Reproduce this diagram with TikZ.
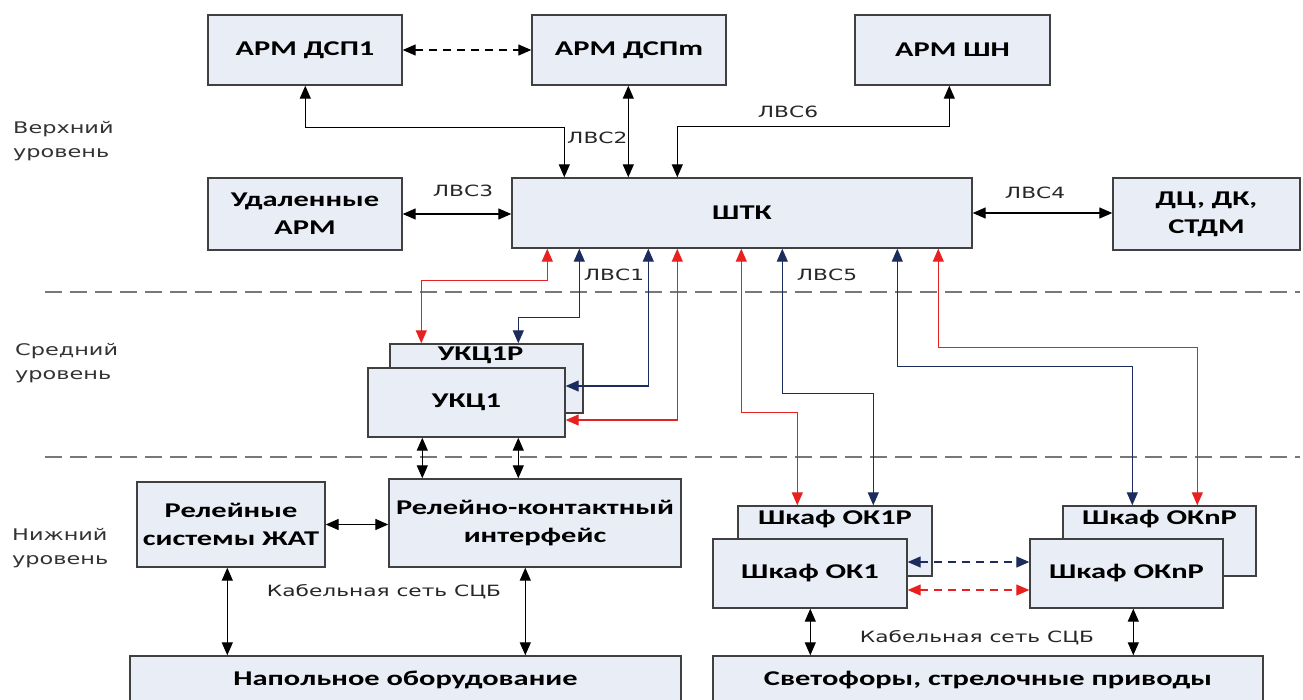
\documentclass[tikz,border=0pt]{standalone}
\usepackage{fontspec}
\newfontfamily\boxfont{Carlito}[FakeStretch=1.45]
\newfontfamily\lblfont{DejaVu Sans}[FakeStretch=1.4]
\usetikzlibrary{arrows.meta,calc}
\definecolor{boxfill}{RGB}{233,237,245}
\definecolor{boxdraw}{RGB}{64,64,64}
\definecolor{sepgray}{RGB}{120,120,120}
\definecolor{lred}{RGB}{232,32,32}
\definecolor{lblue}{RGB}{28,44,92}
\tikzset{
  >={Triangle[length=13pt,width=11pt]},
  box/.style={draw=boxdraw, fill=boxfill, line width=1.4pt, inner sep=0pt,
    align=center, font=\boxfont\bfseries\fontsize{21}{28}\selectfont},
  boxtxt/.style={inner sep=0pt, font=\boxfont\bfseries\fontsize{21}{28}\selectfont},
  lbl/.style={inner sep=0pt, font=\lblfont\fontsize{15.5}{18}\selectfont, text=black!85},
  lvl/.style={inner sep=0pt, align=left, anchor=west, font=\lblfont\fontsize{16}{24}\selectfont, text=black!80},
  sep/.style={draw=sepgray, line width=2.2pt, dash pattern=on 17pt off 8pt},
  blk/.style={<->, draw=black, line width=1.3pt},
  red/.style={<->, draw=lred, line width=1.2pt},
  blu/.style={<->, draw=lblue, line width=1.3pt},
  dashlink/.style={dash pattern=on 8pt off 6pt}
}
\begin{document}
\begin{tikzpicture}[x=1pt,y=-1pt]
\useasboundingbox (0,0) rectangle (1303,699);

% level separators
\draw[sep] (45,292) -- (1300,292);
\draw[sep] (45,457) -- (1300,457);

% level labels
\node[lvl] (lv1) at (13,141) {Верхний\\уровень};
\node[lvl] (lv2) at (15,363) {Средний\\уровень};
\node[lvl] (lv3) at (12,548) {Нижний\\уровень};

% upper level
\node[box, minimum width=194pt, minimum height=70pt] (dsp1) at (305,50) {АРМ ДСП1};
\node[box, minimum width=194pt, minimum height=70pt] (dspm) at (629,50) {АРМ ДСПm};
\node[box, minimum width=195pt, minimum height=70pt] (shn) at (952.5,50) {АРМ ШН};
\node[box, minimum width=194pt, minimum height=72pt] (rem) at (305,214) {Удаленные\\АРМ};
\node[box, minimum width=460pt, minimum height=70pt] (shtk) at (742,213) {ШТК};
\node[box, minimum width=187pt, minimum height=72pt] (dc) at (1206.5,214) {ДЦ, ДК,\\СТДМ};

% middle level
\node[box, minimum width=193pt, minimum height=69pt] (ukc1r) at (486.5,378.5) {};
\node[boxtxt] (ukc1rt) at ($(ukc1r.north)+(-6,12)$) {УКЦ1Р};
\node[box, minimum width=197pt, minimum height=69pt] (ukc1) at (466.5,402.5) {УКЦ1};

% lower level
\node[box, minimum width=188pt, minimum height=85pt] (rel) at (231,524.5) {Релейные\\системы ЖАТ};
\node[box, minimum width=292pt, minimum height=88pt] (rki) at (535,523) {Релейно-контактный\\интерфейс};
\node[box, minimum width=551pt, minimum height=48pt] (nap) at (405.5,680) {Напольное оборудование};
\node[box, minimum width=194pt, minimum height=70pt] (ok1r) at (835,541) {};
\node[boxtxt] (ok1rt) at ($(ok1r.north)+(0,14)$) {Шкаф ОК1Р};
\node[box, minimum width=194pt, minimum height=69pt] (ok1) at (810,573.5) {Шкаф ОК1};
\node[box, minimum width=193pt, minimum height=70pt] (oknr) at (1159.5,541) {};
\node[boxtxt] (oknrt) at ($(oknr.north)+(0,14)$) {Шкаф ОКnР};
\node[box, minimum width=193pt, minimum height=69pt] (okn) at (1126.5,573.5) {Шкаф ОКnР};
\node[box, minimum width=550pt, minimum height=48pt] (svet) at (988,680) {Светофоры, стрелочные приводы};

% upper connectors
\draw[blk, dashlink] (dsp1.east) -- (dspm.west);
\draw[blk] ([xshift=98pt]dsp1.south west) -- ++(0,42) -| ([xshift=53pt]shtk.north west);
\draw[blk] ([xshift=97pt]dspm.south west) -- ([xshift=117pt]shtk.north west);
\draw[blk] ([xshift=166pt]shtk.north west) -- ++(0,-51) -| ([xshift=95pt]shn.south west);
\draw[blk] (rem.east) -- (rem.east -| shtk.west);
\draw[blk] (shtk.east) -- (shtk.east -| dc.west);

% ШТК to middle level
\draw[red] ([xshift=36pt]shtk.south west) -- ++(0,32) -| ([xshift=32pt]ukc1r.north west);
\draw[blu] ([xshift=68pt]shtk.south west) -- ++(0,69) -| ([xshift=129pt]ukc1r.north west);
\draw[blu] ([xshift=137pt]shtk.south west) |- ([yshift=16.5pt]ukc1.east);
\draw[red] ([xshift=166pt]shtk.south west) |- ([yshift=-17.5pt]ukc1.east);

% ШТК to object controller cabinets
\draw[red] ([xshift=230pt]shtk.south west) -- ++(0,164) -| ([xshift=60pt]ok1r.north west);
\draw[blu] ([xshift=271pt]shtk.south west) -- ++(0,145) -| ([xshift=136pt]ok1r.north west);
\draw[blu] ([xshift=386pt]shtk.south west) -- ++(0,118) -| ([xshift=70pt]oknr.north west);
\draw[red] ([xshift=427pt]shtk.south west) -- ++(0,99) -| ([xshift=135pt]oknr.north west);

% lower connectors
\draw[blk] ([xshift=55pt]ukc1.south west) -- ([xshift=55pt]ukc1.south west |- rki.north);
\draw[blk] ([xshift=151pt]ukc1.south west) -- ([xshift=151pt]ukc1.south west |- rki.north);
\draw[blk] (rel.east) -- (rel.east -| rki.west);
\draw[blk] ([xshift=91pt]rel.south west) -- ([xshift=91pt]rel.south west |- nap.north);
\draw[blk] ([xshift=137pt]rki.south west) -- ([xshift=137pt]rki.south west |- nap.north);
\draw[blk] ([xshift=98pt]ok1.south west) -- ([xshift=98pt]ok1.south west |- svet.north);
\draw[blk] ([xshift=104pt]okn.south west) -- ([xshift=104pt]okn.south west |- svet.north);
\draw[blu, dashlink] ([yshift=11.5pt]ok1.east) -- ([yshift=11.5pt]ok1.east -| okn.west);
\draw[red, dashlink] ([yshift=-16.5pt]ok1.east) -- ([yshift=-16.5pt]ok1.east -| okn.west);

% network labels
\node[lbl, anchor=west] (l2) at (567,138) {ЛВС2};
\node[lbl] (l6) at (788,112) {ЛВС6};
\node[lbl] (l3) at (463,191) {ЛВС3};
\node[lbl] (l4) at (1035,193) {ЛВС4};
\node[lbl] (l1) at (614,275) {ЛВС1};
\node[lbl] (l5) at (827,275) {ЛВС5};
\node[lbl] (k1) at (384,592) {Кабельная сеть СЦБ};
\node[lbl] (k2) at (977,638) {Кабельная сеть СЦБ};
\end{tikzpicture}
\end{document}
